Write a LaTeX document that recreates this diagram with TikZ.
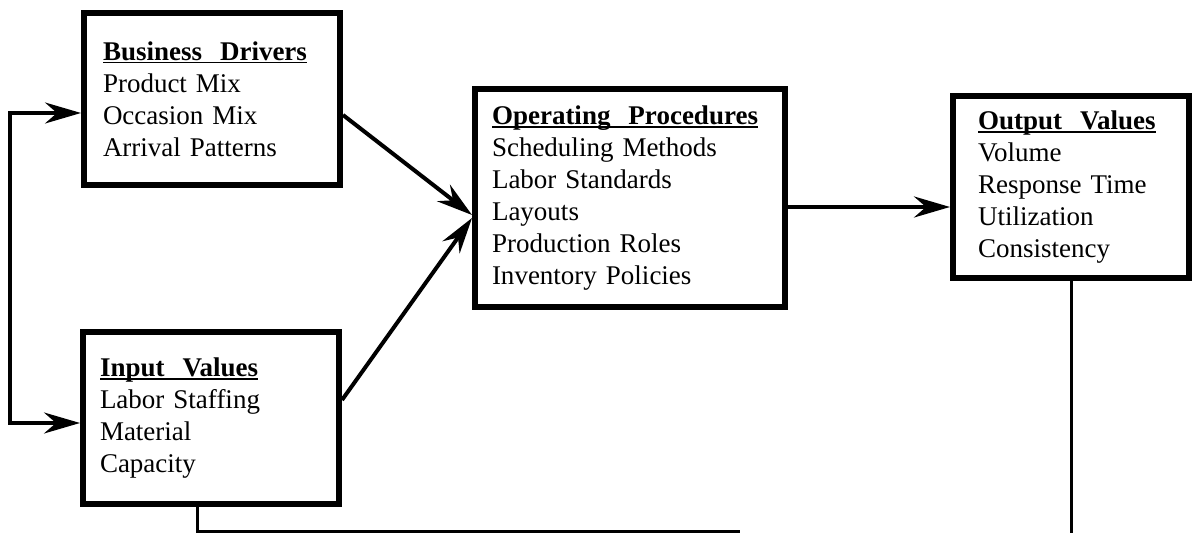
\documentclass[tikz,border=0pt]{standalone}
\usepackage{fontspec}
\setmainfont{Liberation Serif}
\usetikzlibrary{arrows.meta,positioning}
\newcommand{\boxhead}[1]{\setbox0\hbox{\textbf{#1}}\rlap{\rule[-1.6pt]{\wd0}{0.9pt}}\box0}

\begin{document}
\begin{tikzpicture}[x=0.5pt,y=-0.5pt,
  >={Stealth[length=18pt,width=10.5pt,inset=6pt]},
  box/.style={draw,line width=3pt,align=left,inner ysep=0pt,
    font=\fontsize{13.5}{16}\selectfont},
  flow/.style={line width=2pt,->},
  loopline/.style={line width=1.5pt}]
\useasboundingbox (0,0) rectangle (1192,533);
\node[box,minimum height=86pt,inner xsep=9.5pt,text width=109pt] (drivers) at (212,99)
  {\boxhead{Business~~Drivers}\\Product Mix\\Occasion Mix\\Arrival Patterns};
\node[box,minimum height=86pt,inner xsep=8.5pt,text width=111pt] (inputs) at (211,418)
  {\boxhead{Input~~Values}\\Labor Staffing\\Material\\Capacity};
\node[box,minimum height=109pt,inner xsep=8.5pt,text width=138pt] (procs) at (630,198)
  {\boxhead{Operating~~Procedures}\\Scheduling Methods\\Labor Standards\\Layouts\\Production Roles\\Inventory Policies};
\node[box,minimum height=91pt,inner xsep=12.5pt,text width=93pt] (outputs) at (1071,187)
  {\boxhead{Output~~Values}\\Volume\\Response Time\\Utilization\\Consistency};
\coordinate (feedL) at (740,531);
\coordinate (feedR) at (1071,533);
\draw[line width=1.6pt,<->] ([yshift=-7pt]drivers.west) -- ++(-71,0) |- ([yshift=-2.5pt]inputs.west);
\draw[flow] ([yshift=-8pt]drivers.east) -- ([yshift=-8.5pt]procs.west);
\draw[flow] ([yshift=9pt]inputs.east) -- ([yshift=-10pt]procs.west);
\draw[flow] ([yshift=-4.5pt]procs.east) -- ([yshift=-10pt]outputs.west);
\draw[loopline] (outputs.south) -- (feedR);
\draw[loopline] ([xshift=-7pt]inputs.south) |- (feedL);
\end{tikzpicture}
\end{document}
